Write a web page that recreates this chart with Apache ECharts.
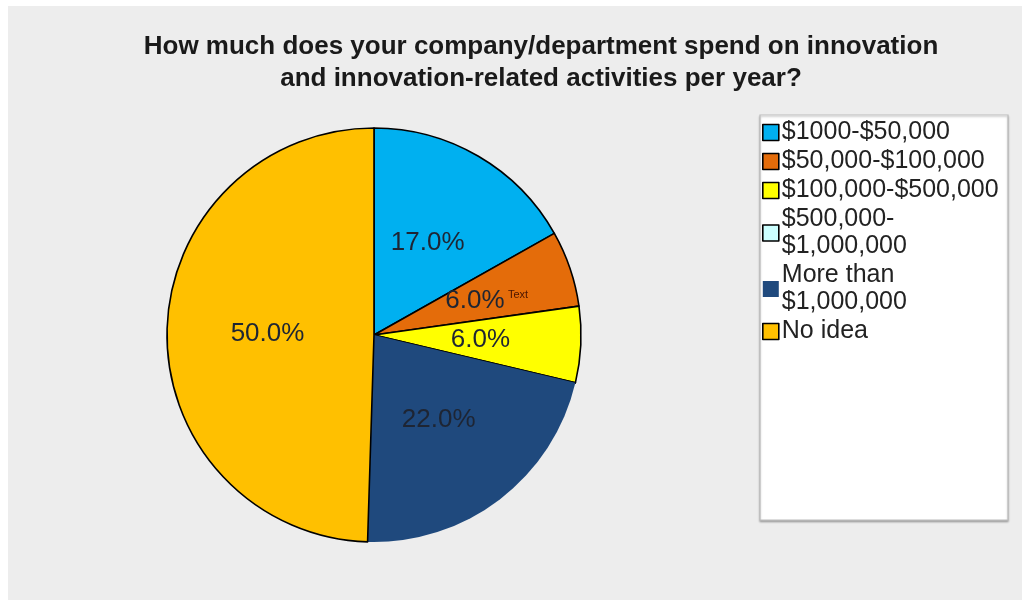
<!DOCTYPE html>
<html>
<head>
<meta charset="utf-8">
<script src="https://cdn.jsdelivr.net/npm/echarts@6/dist/echarts.min.js"></script>
<style>
  html, body { margin: 0; padding: 0; background: #ffffff; }
  #chart { width: 1022px; height: 600px; }
</style>
</head>
<body>
<div id="chart"></div>
<script>
// Survey answers: yearly spend on innovation
const categories = [
  '$1000-$50,000',
  '$50,000-$100,000',
  '$100,000-$500,000',
  '$500,000-\n$1,000,000',
  'More than\n$1,000,000',
  'No idea'
];
const shares = [17, 6, 6, 0, 22, 50];
const colors = ['#00b0f0', '#e46c0a', '#ffff00', '#ccffff', '#1f497d', '#ffc000'];
const titleText = 'How much does your company/department spend on innovation\nand innovation-related activities per year?';

const NAVY = 4;
const FONT = '"Liberation Sans", Arial, sans-serif';

const chart = echarts.init(document.getElementById('chart'), null, { renderer: 'canvas' });

const pieData = categories.map((name, i) => ({
  name: name,
  value: shares[i],
  itemStyle: {
    color: colors[i],
    borderColor: i === NAVY ? colors[i] : '#000',
    borderWidth: i === NAVY ? 0 : 1.6
  },
  label: { show: shares[i] > 0 }
}));

const legendData = categories.map((name, i) => ({
  name: name,
  itemStyle: {
    color: colors[i],
    borderColor: i === NAVY ? colors[i] : '#000',
    borderWidth: i === NAVY ? 0 : 1.6
  }
}));

chart.setOption({
  backgroundColor: '#ffffff',
  animation: false,
  color: colors,
  graphic: [
    {
      type: 'rect', silent: true, z: -10,
      shape: { x: 8, y: 6, width: 1014, height: 594 },
      style: { fill: '#ededed' }
    },
    {
      type: 'rect', silent: true, z: -5,
      shape: { x: 760, y: 115, width: 248, height: 405 },
      style: {
        fill: '#ffffff', stroke: '#bdbdbd', lineWidth: 1.2,
        shadowColor: 'rgba(0,0,0,0.25)', shadowBlur: 2, shadowOffsetY: 1.5
      }
    },
    {
      type: 'text', silent: true, z: 10,
      left: 508, top: 289,
      style: { text: 'Text', fill: '#4a1500', font: '11px ' + FONT }
    }
  ],
  title: {
    text: titleText,
    left: 536,
    top: 26,
    textAlign: 'center',
    textStyle: {
      fontFamily: FONT,
      fontWeight: 'bold',
      fontSize: 26,
      lineHeight: 32,
      color: '#1a1a1a'
    }
  },
  legend: {
    orient: 'vertical',
    left: 762,
    top: 119,
    padding: 0,
    itemWidth: 16,
    itemHeight: 16,
    itemGap: 2,
    icon: 'rect',
    selectedMode: false,
    data: legendData,
    textStyle: {
      fontFamily: FONT,
      fontSize: 25,
      lineHeight: 27,
      color: '#222',
      padding: [0, 0, 0, -2]
    }
  },
  series: [{
    type: 'pie',
    center: [374, 335],
    radius: 207,
    startAngle: 90,
    clockwise: true,
    minAngle: 0,
    avoidLabelOverlap: false,
    emphasis: { disabled: true },
    data: pieData,
    label: {
      position: 'inside',
      formatter: p => p.value.toFixed(1) + '%',
      fontFamily: FONT,
      fontSize: 26,
      color: '#1e2533'
    },
    labelLine: { show: false }
  }]
});
</script>
</body>
</html>
